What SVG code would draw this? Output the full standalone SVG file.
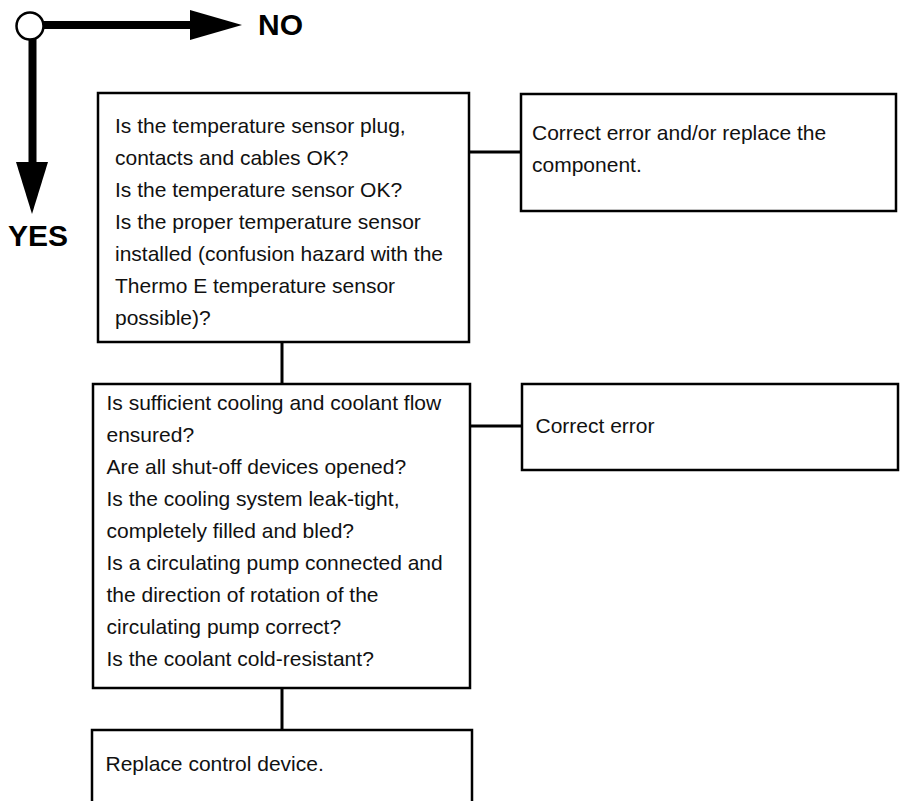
<svg xmlns="http://www.w3.org/2000/svg" width="901" height="801" viewBox="0 0 901 801">
<style>
.box{fill:#fff;stroke:#000;stroke-width:2.5}
.t{font-family:"Liberation Sans",Arial,sans-serif;font-size:21px;fill:#111}
.lbl{font-family:"Liberation Sans",Arial,sans-serif;font-size:30px;font-weight:bold;fill:#000}
.con{stroke:#000;stroke-width:3;fill:none}
.thick{stroke:#000;stroke-width:8;fill:none}
</style>
<rect width="901" height="801" fill="#fff"/>
<g id="legend">
<line class="thick" x1="42" y1="25" x2="192" y2="25"/>
<polygon points="190,10 242,25 190,40" fill="#000"/>
<line class="thick" x1="32.5" y1="38" x2="32.5" y2="164"/>
<polygon points="16,162 48,162 32,214" fill="#000"/>
<circle cx="30" cy="26" r="13.5" fill="#fff" stroke="#000" stroke-width="2.5"/>
<text class="lbl" x="258" y="35">NO</text>
<text class="lbl" x="8" y="246">YES</text>
</g>
<g id="connectors">
<line class="con" x1="282" y1="342" x2="282" y2="384"/>
<line class="con" x1="282" y1="688" x2="282" y2="730"/>
<line class="con" x1="469" y1="152" x2="521" y2="152"/>
<line class="con" x1="470" y1="426" x2="522" y2="426"/>
</g>
<g id="q1">
<rect class="box" x="98" y="93" width="371" height="249"/>
<text class="t" x="115" y="133">Is the temperature sensor plug,</text>
<text class="t" x="115" y="165">contacts and cables OK?</text>
<text class="t" x="115" y="197">Is the temperature sensor OK?</text>
<text class="t" x="115" y="229">Is the proper temperature sensor</text>
<text class="t" x="115" y="261">installed (confusion hazard with the</text>
<text class="t" x="115" y="293">Thermo E temperature sensor</text>
<text class="t" x="115" y="325">possible)?</text>
</g>
<g id="a1">
<rect class="box" x="521" y="94" width="375" height="117"/>
<text class="t" x="532" y="140">Correct error and/or replace the</text>
<text class="t" x="532" y="172">component.</text>
</g>
<g id="q2">
<rect class="box" x="93" y="384" width="377" height="304"/>
<text class="t" x="106.5" y="410">Is sufficient cooling and coolant flow</text>
<text class="t" x="106.5" y="442">ensured?</text>
<text class="t" x="106.5" y="474">Are all shut-off devices opened?</text>
<text class="t" x="106.5" y="506">Is the cooling system leak-tight,</text>
<text class="t" x="106.5" y="538">completely filled and bled?</text>
<text class="t" x="106.5" y="570">Is a circulating pump connected and</text>
<text class="t" x="106.5" y="602">the direction of rotation of the</text>
<text class="t" x="106.5" y="634">circulating pump correct?</text>
<text class="t" x="106.5" y="666">Is the coolant cold-resistant?</text>
</g>
<g id="a2">
<rect class="box" x="522" y="384" width="376" height="86"/>
<text class="t" x="535.5" y="433">Correct error</text>
</g>
<g id="end">
<path class="box" d="M92,806 V730 H472 V806"/>
<text class="t" x="105.5" y="771">Replace control device.</text>
</g>
</svg>
